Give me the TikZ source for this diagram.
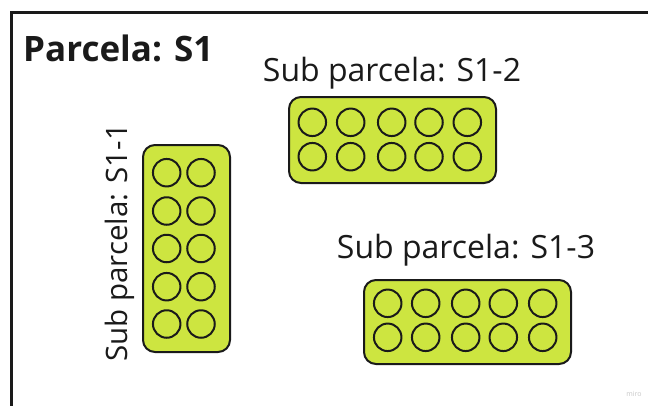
\documentclass[tikz,border=0pt]{standalone}
\usepackage{fontspec}
\setmainfont{Open Sans}
\definecolor{lime}{HTML}{CDE540}
\definecolor{ink}{HTML}{1A1A1A}
\begin{document}
\begin{tikzpicture}[x=1pt,y=-1pt,
  plate/.style={draw=ink,line width=2pt,fill=lime,rounded corners=12pt,inner sep=0pt},
  well/.style={circle,draw=ink,line width=2pt,inner sep=0pt,minimum size=27.5pt},
  label/.style={text=ink,font=\fontsize{32}{38}\selectfont,inner sep=0pt}]
\useasboundingbox (0,0) rectangle (648,405);
\fill[white] (0,0) rectangle (648,405);
\draw[ink,line width=2.6pt] (11.7,420) -- (11.7,12.5) -- (660,12.5);
\node[anchor=base west,inner sep=0pt,text=ink,font=\fontsize{35}{41}\selectfont\bfseries] (title) at (23,61.5) {Parcela: S1};
% plate S1-1
\node[plate,minimum width=87pt,minimum height=207pt] (p1) at (186.5,248.5) {};
\foreach \r/\yy in {1/172.7,2/211,3/248.5,4/286.7,5/324}{
  \node[well] (p1a\r) at (166.7,\yy) {};
  \node[well] (p1b\r) at (201,\yy) {};
}
\node[label,font=\fontsize{29.5}{36}\selectfont,rotate=90,anchor=base] (l1) at (127,243) {Sub parcela: S1-1};
% plate S1-2
\node[plate,minimum width=207pt,minimum height=86pt] (p2) at (392.5,140) {};
\foreach \c/\xx in {1/312.3,2/350.7,3/391.7,4/429,5/467.3}{
  \node[well] (p2a\c) at (\xx,122.3) {};
  \node[well] (p2b\c) at (\xx,156.7) {};
}
\node[label,anchor=base] (l2) at (392,81.7) {Sub parcela: S1-2};
% plate S1-3
\node[plate,minimum width=207pt,minimum height=84pt] (p3) at (467.5,322) {};
\foreach \c/\xx in {1/387.7,2/425.7,3/465.7,4/503.3,5/542.7}{
  \node[well] (p3a\c) at (\xx,303.3) {};
  \node[well] (p3b\c) at (\xx,337.3) {};
}
\node[label,anchor=base] (l3) at (466,258.3) {Sub parcela: S1-3};
\node[text=black!22,font=\fontsize{7}{8}\selectfont,inner sep=0pt] (miro) at (634,394) {miro};
\end{tikzpicture}
\end{document}
